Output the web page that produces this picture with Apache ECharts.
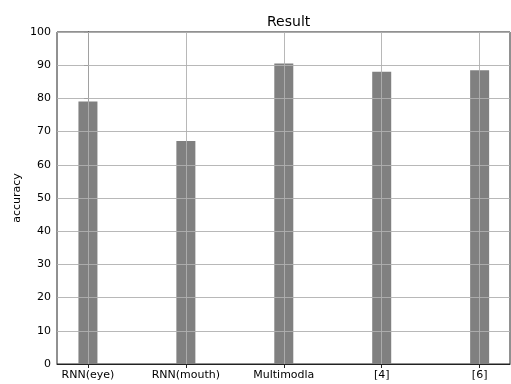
<!DOCTYPE html>
<html><head><meta charset="utf-8">
<script src="https://cdn.jsdelivr.net/npm/echarts@6/dist/echarts.min.js"></script>
<style>html,body{margin:0;padding:0;background:#fff}#c{width:511px;height:384px}</style>
</head><body><div id="c"></div>
<script>
const categories = ['RNN(eye)', 'RNN(mouth)', 'Multimodla', '[4]', '[6]'];
const accuracy = [79.1, 67.2, 90.5, 88.0, 88.5];
const yTicks = [0, 10, 20, 30, 40, 50, 60, 70, 80, 90, 100];

const positions = categories.map((c, i) => i);
const gridColor = '#b0b0b0';
const chart = echarts.init(document.getElementById('c'), null, {renderer: 'canvas'});
const font = 'DejaVu Sans';
chart.setOption({
  animation: false,
  title: {text: 'Result', left: 262, top: 10,
    textStyle: {fontFamily: font, fontSize: 14, fontWeight: 'normal', color: '#000'}},
  grid: {left: 57, right: 1, top: 32, bottom: 20, show: true, borderColor: '#222', borderWidth: 1, backgroundColor: 'transparent'},
  xAxis: {
    type: 'value', min: -0.316, max: 4.31,
    axisLine: {show: true, lineStyle: {color: '#222', width: 1}},
    axisTick: {show: true, customValues: positions, length: 4, lineStyle: {color: '#222'}},
    axisLabel: {customValues: positions, formatter: v => categories[Math.round(v)], fontFamily: font, fontSize: 11, color: '#000', margin: 6},
    splitLine: {show: false}
  },
  yAxis: {
    type: 'value', min: 0, max: 100, interval: 10,
    name: 'accuracy', nameLocation: 'middle', nameGap: 34, nameRotate: 90, nameMoveOverlap: false,
    nameTextStyle: {fontFamily: font, fontSize: 11, color: '#000'},
    axisLine: {show: true, lineStyle: {color: '#222', width: 1}},
    axisTick: {show: true, length: 4, lineStyle: {color: '#222'}},
    axisLabel: {fontFamily: font, fontSize: 11, color: '#000', margin: 6},
    splitLine: {show: false}
  },
  series: [{
    type: 'bar', barWidth: 19,
    data: positions.map((p, i) => [p, accuracy[i]]),
    itemStyle: {color: '#808080'},
    markLine: {
      silent: true, symbol: 'none', animation: false,
      label: {show: false},
      lineStyle: {color: gridColor, width: 0.9, type: 'solid'},
      emphasis: {disabled: true},
      data: yTicks.slice(1).map(v => ({yAxis: v})).concat(positions.map(p => ({xAxis: p})))
    }
  }]
});
</script></body></html>
